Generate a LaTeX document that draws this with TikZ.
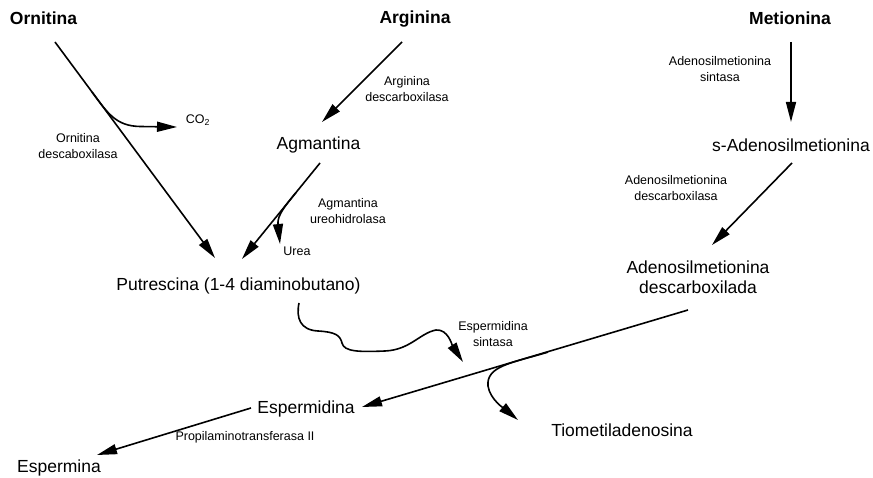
\documentclass[tikz,border=0pt]{standalone}
\usepackage{fontspec}
\setmainfont{Liberation Sans}
\usetikzlibrary{arrows.meta}
\begin{document}
\begin{tikzpicture}[x=1pt,y=-1pt,
  big/.style={font=\fontsize{17.5}{20}\selectfont, inner sep=0pt, align=center},
  titlenode/.style={font=\fontsize{17.5}{20}\selectfont\bfseries, inner sep=0pt},
  enz/.style={font=\fontsize{12.5}{16}\selectfont, inner sep=0pt, align=center},
  arr/.style={line width=1.6pt, -{Triangle[length=20pt,width=10pt]}},
]
\useasboundingbox (0,0) rectangle (873,478);

% compounds
\node[titlenode] (orn) at (43.5,18) {Ornitina};
\node[titlenode] (arg) at (415,19) {Arginina};
\node[titlenode] (met) at (790,18) {Metionina};
\node[big] (agm) at (318.5,145) {Agmantina};
\node[big] (sam) at (791,145) {s-Adenosilmetionina};
\node[big] (put) at (238.5,286) {Putrescina (1-4 diaminobutano)};
\node[big] (adm) at (698,277) {Adenosilmetionina\\descarboxilada};
\node[big] (espd) at (306,409) {Espermidina};
\node[big] (espm) at (59,468) {Espermina};
\node[big] (tio) at (622,430) {Tiometiladenosina};

% enzymes / by-products
\node[enz] (e1) at (78,146) {Ornitina\\descaboxilasa};
\node[enz] (e2) at (407,89) {Arginina\\descarboxilasa};
\node[enz] (e3) at (348,211) {Agmantina\\ureohidrolasa};
\node[enz] (e4) at (720,69) {Adenosilmetionina\\sintasa};
\node[enz] (e5) at (676,188) {Adenosilmetionina\\descarboxilasa};
\node[enz] (e6) at (493,334) {Espermidina\\sintasa};
\node[enz] (e7) at (245,437) {Propilaminotransferasa II};
\node[enz] (co2) at (198,120) {CO\textsubscript{2}};
\node[enz] (urea) at (297,251) {Urea};

% connector end points
\coordinate (o1) at (55,42);   \coordinate (o2) at (215,258);
\coordinate (a1) at (402,42);  \coordinate (a2) at (322,122);
\coordinate (g1) at (320,163); \coordinate (g2) at (242,259);
\coordinate (m1) at (791,42);  \coordinate (m2) at (791,122);
\coordinate (s1) at (792,163); \coordinate (s2) at (712,245);
\coordinate (d1) at (688,310); \coordinate (d2) at (362,407);
\coordinate (p1) at (251,408); \coordinate (p2) at (97,455);
\coordinate (cb) at (92,92);   \coordinate (ct) at (177,127);
\coordinate (ub) at (296,192.5); \coordinate (ut) at (280,244);
\coordinate (tb) at (548,352.1); \coordinate (tt) at (518,420);
\coordinate (qb) at (299,303); \coordinate (qt) at (463,362);

% main arrows
\draw[arr] (o1) -- (o2);
\draw[arr] (a1) -- (a2);
\draw[arr] (g1) -- (g2);
\draw[arr] (m1) -- (m2);
\draw[arr] (s1) -- (s2);
\draw[arr] (d1) -- (d2);
\draw[arr] (p1) -- (p2);

% side branches
\draw[arr] (cb) .. controls (108,113.6) and (116,126) .. (140,126.5) -- (ct);
\draw[arr] (ub) .. controls (286,205) and (277,215) .. (ut);
\draw[arr] (tb) .. controls (512,362.9) and (486,366) .. (488,386)
  .. controls (490,400) and (506,410) .. (tt);
\draw[arr] (qb) .. controls (296,318) and (300,330) .. (318,331)
  .. controls (335,332) and (340,335) .. (342,343)
  .. controls (344,352) and (360,352) .. (385,351)
  .. controls (410,350) and (420,333) .. (436,330)
  .. controls (448,329) and (452,345) .. (qt);
\end{tikzpicture}
\end{document}
